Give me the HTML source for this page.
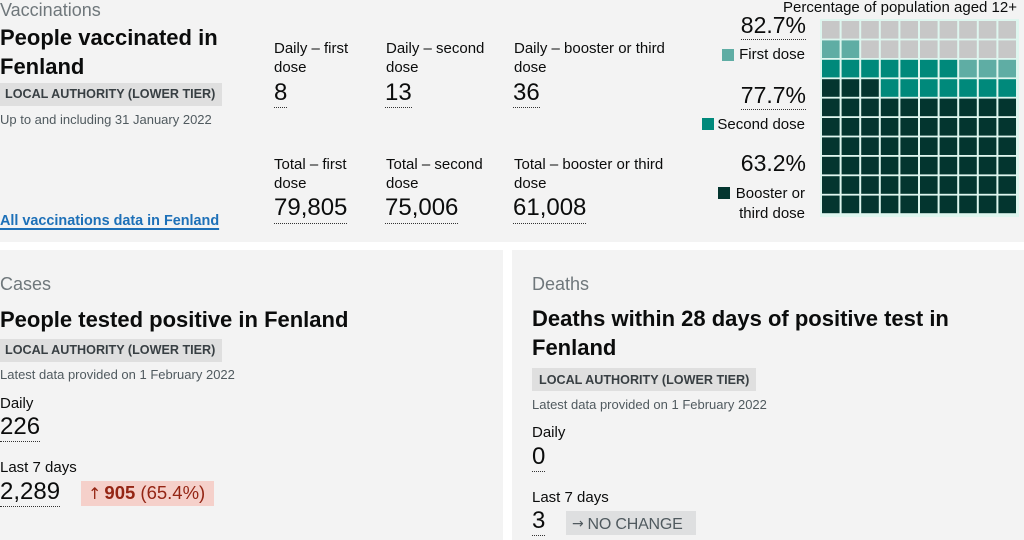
<!DOCTYPE html>
<html><head><meta charset="utf-8">
<style>
*{margin:0;padding:0;box-sizing:content-box}
html,body{width:1024px;height:540px;overflow:hidden;background:#fff}
body{position:relative;font-family:"Liberation Sans",Arial,sans-serif;color:#0b0c0c}
.p{position:absolute;background:#f3f3f3}
.t{position:absolute;white-space:nowrap;line-height:1}
.cap{font-size:18px;color:#6f777b}
.h{font-size:22px;font-weight:bold;line-height:29px}
.tagbox{position:absolute;background:#dfdfdf;height:23px}
.tag{font-size:12.6px;font-weight:bold;color:#383f43}
.sub{font-size:13px;color:#505a5f}
.lab{font-size:15px;line-height:19px}
.lab1{font-size:15px}
.num{font-size:24px}
.num span{display:inline-block;line-height:1;padding-bottom:2px;border-bottom:1px dotted #333}
.pct{font-size:23px;text-align:right}
.pct span{display:inline-block;line-height:1;padding-bottom:2px;border-bottom:1px dotted #333}
.leg{font-size:15px;text-align:right}
.mk{position:absolute;width:12px;height:12px}
.ar{font-family:"DejaVu Sans",sans-serif}
</style></head><body>
<div class="p" style="left:0;top:0;width:1024px;height:242px"></div>
<div class="p" style="left:0;top:250px;width:503px;height:290px"></div>
<div class="p" style="left:512px;top:250px;width:512px;height:290px"></div>

<!-- Vaccinations -->
<div class="t cap" style="left:0;top:0.8px">Vaccinations</div>
<div class="t h" style="left:0;top:22.9px">People vaccinated in<br>Fenland</div>
<div class="tagbox" style="left:-2px;top:83px;width:224px"></div>
<div class="t tag" style="left:5px;top:88.3px">LOCAL AUTHORITY (LOWER TIER)</div>
<div class="t sub" style="left:0;top:113px">Up to and including 31 January 2022</div>
<div class="t" style="left:0;top:213.8px;font-size:14.4px;font-weight:bold;color:#1d70b8;text-decoration:underline;text-decoration-thickness:1.5px;text-underline-offset:3px">All vaccinations data in Fenland</div>

<div class="t lab" style="left:274px;top:39.3px">Daily – first<br>dose</div>
<div class="t lab" style="left:386px;top:39.3px">Daily – second<br>dose</div>
<div class="t lab" style="left:514px;top:39.3px">Daily – booster or third<br>dose</div>
<div class="t num" style="left:274px;top:80.7px"><span>8</span></div>
<div class="t num" style="left:385px;top:80.7px"><span>13</span></div>
<div class="t num" style="left:513px;top:80.7px"><span>36</span></div>

<div class="t lab" style="left:274px;top:155.3px">Total – first<br>dose</div>
<div class="t lab" style="left:386px;top:155.3px">Total – second<br>dose</div>
<div class="t lab" style="left:514px;top:155.3px">Total – booster or third<br>dose</div>
<div class="t num" style="left:274px;top:195.7px"><span style="padding-bottom:3px">79,805</span></div>
<div class="t num" style="left:385px;top:195.7px"><span style="padding-bottom:3px">75,006</span></div>
<div class="t num" style="left:513px;top:195.7px"><span style="padding-bottom:3px">61,008</span></div>

<!-- Waffle -->
<div class="t" style="right:7px;top:0.3px;font-size:15px;text-align:right">Percentage of population aged 12+</div>
<div class="t pct" style="right:218px;top:13.8px"><span>82.7%</span></div>
<div class="mk" style="left:722px;top:49px;background:#5fada4"></div>
<div class="t leg" style="right:219px;top:47.3px">First dose</div>
<div class="t pct" style="right:218px;top:83.8px"><span>77.7%</span></div>
<div class="mk" style="left:702px;top:118px;background:#00897b"></div>
<div class="t leg" style="right:219px;top:116.6px">Second dose</div>
<div class="t pct" style="right:218px;top:152.2px">63.2%</div>
<div class="mk" style="left:718px;top:187px;background:#03352f"></div>
<div class="t leg" style="right:219px;top:185.6px">Booster or</div>
<div class="t leg" style="right:219px;top:205.6px">third dose</div>

<svg style="position:absolute;left:820px;top:19px" width="200" height="200" viewBox="0 0 200 200">
<rect x="0" y="0" width="199" height="198" fill="#def6ef"/>
<g>
<rect x="2" y="2" width="17.6" height="17.6" fill="#c7c7c7"/><rect x="21.6" y="2" width="17.6" height="17.6" fill="#c7c7c7"/><rect x="41.2" y="2" width="17.6" height="17.6" fill="#c7c7c7"/><rect x="60.8" y="2" width="17.6" height="17.6" fill="#c7c7c7"/><rect x="80.4" y="2" width="17.6" height="17.6" fill="#c7c7c7"/><rect x="100" y="2" width="17.6" height="17.6" fill="#c7c7c7"/><rect x="119.6" y="2" width="17.6" height="17.6" fill="#c7c7c7"/><rect x="139.2" y="2" width="17.6" height="17.6" fill="#c7c7c7"/><rect x="158.8" y="2" width="17.6" height="17.6" fill="#c7c7c7"/><rect x="178.4" y="2" width="17.6" height="17.6" fill="#c7c7c7"/>
<rect x="2" y="21.4" width="17.6" height="17.6" fill="#5fada4"/><rect x="21.6" y="21.4" width="17.6" height="17.6" fill="#5fada4"/><rect x="41.2" y="21.4" width="17.6" height="17.6" fill="#c7c7c7"/><rect x="60.8" y="21.4" width="17.6" height="17.6" fill="#c7c7c7"/><rect x="80.4" y="21.4" width="17.6" height="17.6" fill="#c7c7c7"/><rect x="100" y="21.4" width="17.6" height="17.6" fill="#c7c7c7"/><rect x="119.6" y="21.4" width="17.6" height="17.6" fill="#c7c7c7"/><rect x="139.2" y="21.4" width="17.6" height="17.6" fill="#c7c7c7"/><rect x="158.8" y="21.4" width="17.6" height="17.6" fill="#c7c7c7"/><rect x="178.4" y="21.4" width="17.6" height="17.6" fill="#c7c7c7"/>
<rect x="2" y="40.8" width="17.6" height="17.6" fill="#00897b"/><rect x="21.6" y="40.8" width="17.6" height="17.6" fill="#00897b"/><rect x="41.2" y="40.8" width="17.6" height="17.6" fill="#00897b"/><rect x="60.8" y="40.8" width="17.6" height="17.6" fill="#00897b"/><rect x="80.4" y="40.8" width="17.6" height="17.6" fill="#00897b"/><rect x="100" y="40.8" width="17.6" height="17.6" fill="#00897b"/><rect x="119.6" y="40.8" width="17.6" height="17.6" fill="#00897b"/><rect x="139.2" y="40.8" width="17.6" height="17.6" fill="#5fada4"/><rect x="158.8" y="40.8" width="17.6" height="17.6" fill="#5fada4"/><rect x="178.4" y="40.8" width="17.6" height="17.6" fill="#5fada4"/>
<rect x="2" y="60.2" width="17.6" height="17.6" fill="#03352f"/><rect x="21.6" y="60.2" width="17.6" height="17.6" fill="#03352f"/><rect x="41.2" y="60.2" width="17.6" height="17.6" fill="#03352f"/><rect x="60.8" y="60.2" width="17.6" height="17.6" fill="#00897b"/><rect x="80.4" y="60.2" width="17.6" height="17.6" fill="#00897b"/><rect x="100" y="60.2" width="17.6" height="17.6" fill="#00897b"/><rect x="119.6" y="60.2" width="17.6" height="17.6" fill="#00897b"/><rect x="139.2" y="60.2" width="17.6" height="17.6" fill="#00897b"/><rect x="158.8" y="60.2" width="17.6" height="17.6" fill="#00897b"/><rect x="178.4" y="60.2" width="17.6" height="17.6" fill="#00897b"/>
</g>
<g fill="#03352f">
<rect x="2" y="79.6" width="17.6" height="17.6"/><rect x="21.6" y="79.6" width="17.6" height="17.6"/><rect x="41.2" y="79.6" width="17.6" height="17.6"/><rect x="60.8" y="79.6" width="17.6" height="17.6"/><rect x="80.4" y="79.6" width="17.6" height="17.6"/><rect x="100" y="79.6" width="17.6" height="17.6"/><rect x="119.6" y="79.6" width="17.6" height="17.6"/><rect x="139.2" y="79.6" width="17.6" height="17.6"/><rect x="158.8" y="79.6" width="17.6" height="17.6"/><rect x="178.4" y="79.6" width="17.6" height="17.6"/>
<rect x="2" y="99" width="17.6" height="17.6"/><rect x="21.6" y="99" width="17.6" height="17.6"/><rect x="41.2" y="99" width="17.6" height="17.6"/><rect x="60.8" y="99" width="17.6" height="17.6"/><rect x="80.4" y="99" width="17.6" height="17.6"/><rect x="100" y="99" width="17.6" height="17.6"/><rect x="119.6" y="99" width="17.6" height="17.6"/><rect x="139.2" y="99" width="17.6" height="17.6"/><rect x="158.8" y="99" width="17.6" height="17.6"/><rect x="178.4" y="99" width="17.6" height="17.6"/>
<rect x="2" y="118.4" width="17.6" height="17.6"/><rect x="21.6" y="118.4" width="17.6" height="17.6"/><rect x="41.2" y="118.4" width="17.6" height="17.6"/><rect x="60.8" y="118.4" width="17.6" height="17.6"/><rect x="80.4" y="118.4" width="17.6" height="17.6"/><rect x="100" y="118.4" width="17.6" height="17.6"/><rect x="119.6" y="118.4" width="17.6" height="17.6"/><rect x="139.2" y="118.4" width="17.6" height="17.6"/><rect x="158.8" y="118.4" width="17.6" height="17.6"/><rect x="178.4" y="118.4" width="17.6" height="17.6"/>
<rect x="2" y="137.8" width="17.6" height="17.6"/><rect x="21.6" y="137.8" width="17.6" height="17.6"/><rect x="41.2" y="137.8" width="17.6" height="17.6"/><rect x="60.8" y="137.8" width="17.6" height="17.6"/><rect x="80.4" y="137.8" width="17.6" height="17.6"/><rect x="100" y="137.8" width="17.6" height="17.6"/><rect x="119.6" y="137.8" width="17.6" height="17.6"/><rect x="139.2" y="137.8" width="17.6" height="17.6"/><rect x="158.8" y="137.8" width="17.6" height="17.6"/><rect x="178.4" y="137.8" width="17.6" height="17.6"/>
<rect x="2" y="157.2" width="17.6" height="17.6"/><rect x="21.6" y="157.2" width="17.6" height="17.6"/><rect x="41.2" y="157.2" width="17.6" height="17.6"/><rect x="60.8" y="157.2" width="17.6" height="17.6"/><rect x="80.4" y="157.2" width="17.6" height="17.6"/><rect x="100" y="157.2" width="17.6" height="17.6"/><rect x="119.6" y="157.2" width="17.6" height="17.6"/><rect x="139.2" y="157.2" width="17.6" height="17.6"/><rect x="158.8" y="157.2" width="17.6" height="17.6"/><rect x="178.4" y="157.2" width="17.6" height="17.6"/>
<rect x="2" y="176.6" width="17.6" height="17.6"/><rect x="21.6" y="176.6" width="17.6" height="17.6"/><rect x="41.2" y="176.6" width="17.6" height="17.6"/><rect x="60.8" y="176.6" width="17.6" height="17.6"/><rect x="80.4" y="176.6" width="17.6" height="17.6"/><rect x="100" y="176.6" width="17.6" height="17.6"/><rect x="119.6" y="176.6" width="17.6" height="17.6"/><rect x="139.2" y="176.6" width="17.6" height="17.6"/><rect x="158.8" y="176.6" width="17.6" height="17.6"/><rect x="178.4" y="176.6" width="17.6" height="17.6"/>
</g>
</svg>

<!-- Cases -->
<div class="t cap" style="left:0;top:274.8px">Cases</div>
<div class="t h" style="left:0;top:305px">People tested positive in Fenland</div>
<div class="tagbox" style="left:-2px;top:339px;width:224px"></div>
<div class="t tag" style="left:5px;top:344.3px">LOCAL AUTHORITY (LOWER TIER)</div>
<div class="t sub" style="left:0;top:368.3px">Latest data provided on 1 February 2022</div>
<div class="t lab1" style="left:0;top:395.6px">Daily</div>
<div class="t num" style="left:0;top:414.7px"><span>226</span></div>
<div class="t lab1" style="left:0;top:460px">Last 7 days</div>
<div class="t num" style="left:0;top:479.7px"><span>2,289</span></div>
<div style="position:absolute;left:81px;top:481px;width:133px;height:25px;background:#f5d0ca"></div>
<div class="t" style="left:88px;top:484.3px;font-size:18.5px;color:#942514"><span class="ar" style="font-size:16px;margin-right:3px">↑</span><b>905</b> (65.4%)</div>

<!-- Deaths -->
<div class="t cap" style="left:532px;top:274.8px">Deaths</div>
<div class="t h" style="left:532px;top:305.4px;line-height:28.5px">Deaths within 28 days of positive test in<br>Fenland</div>
<div class="tagbox" style="left:532px;top:368px;width:224px"></div>
<div class="t tag" style="left:539px;top:373.6px">LOCAL AUTHORITY (LOWER TIER)</div>
<div class="t sub" style="left:532px;top:398.3px">Latest data provided on 1 February 2022</div>
<div class="t lab1" style="left:532px;top:425px">Daily</div>
<div class="t num" style="left:532px;top:444.7px"><span>0</span></div>
<div class="t lab1" style="left:532px;top:489.6px">Last 7 days</div>
<div class="t num" style="left:532px;top:509px"><span>3</span></div>
<div style="position:absolute;left:566px;top:511px;width:130px;height:24px;background:#dedfe0"></div>
<div class="t" style="left:572px;top:516.5px;font-size:16px;color:#505a5f;letter-spacing:-0.2px"><span class="ar" style="font-size:14px;margin-right:4px;position:relative;top:-1px">→</span>NO CHANGE</div>
</body></html>
